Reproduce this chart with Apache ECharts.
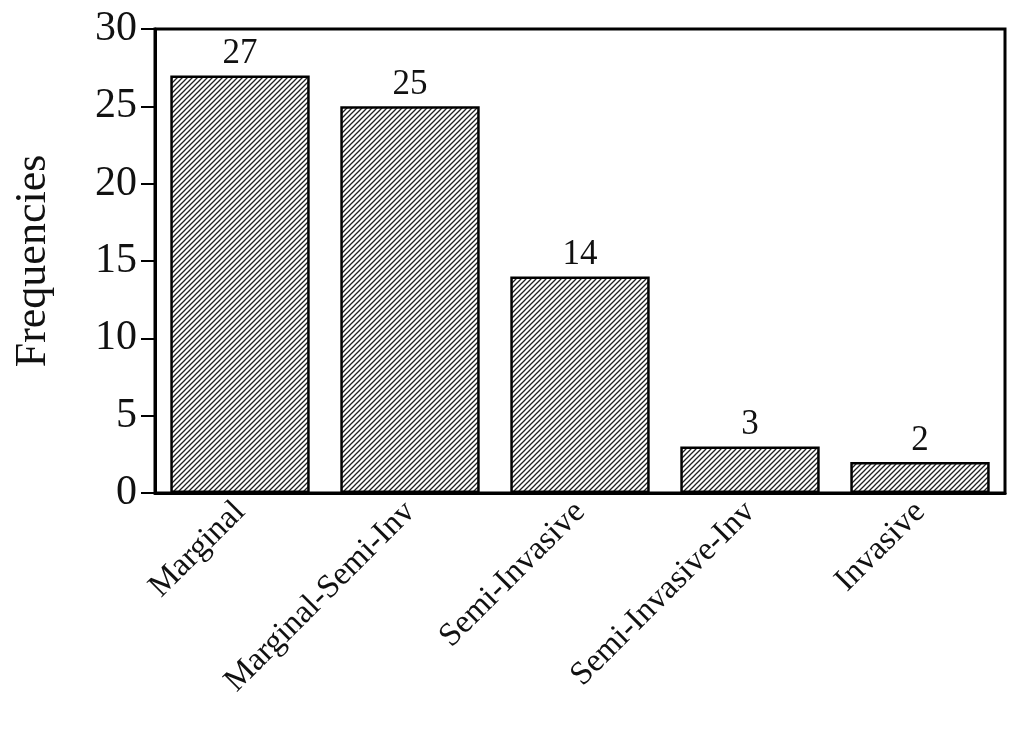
<!DOCTYPE html><html><head><meta charset="utf-8"><script src="https://cdn.jsdelivr.net/npm/echarts@6/dist/echarts.min.js"></script>
<style>body{margin:0;background:#fff}#c{width:1015px;height:744px}</style></head><body><div id="c"></div><script>
const categories=['Marginal','Marginal-Semi-Inv','Semi-Invasive','Semi-Invasive-Inv','Invasive'];
const values=[27,25,14,3,2];
const cv=document.createElement('canvas');cv.width=5;cv.height=5;
const g=cv.getContext('2d');g.fillStyle='#fff';g.fillRect(0,0,5,5);g.strokeStyle='#222';g.lineWidth=1.3;
g.beginPath();g.moveTo(-1,6);g.lineTo(6,-1);g.moveTo(-1,1);g.lineTo(1,-1);g.moveTo(4,6);g.lineTo(6,4);g.stroke();
const font='Liberation Serif';
const ch=echarts.init(document.getElementById('c'));
ch.setOption({animation:false,
grid:{left:155,right:10,top:29,bottom:251,show:true,borderColor:'#000',borderWidth:3},
xAxis:{type:'category',data:categories,axisLine:{lineStyle:{color:'#000',width:3}},axisTick:{show:false},
 axisLabel:{rotate:45,fontFamily:font,fontSize:33,color:'#111',margin:14,interval:0}},
yAxis:{type:'value',min:0,max:30,interval:5,name:'Frequencies',nameLocation:'middle',nameGap:100,
 nameTextStyle:{fontFamily:font,fontSize:44,color:'#111'},splitLine:{show:false},
 axisLine:{show:true,lineStyle:{color:'#000',width:3}},axisTick:{show:true,inside:false,length:14,lineStyle:{color:'#000',width:2}},
 axisLabel:{fontFamily:font,fontSize:42,color:'#111',margin:18}},
series:[{type:'bar',data:values,barWidth:'82%',
 itemStyle:{color:{image:cv,repeat:'repeat'},borderColor:'#000',borderWidth:2.5},
 label:{show:true,position:'top',fontFamily:font,fontSize:35,color:'#111',distance:4}}]});
</script></body></html>
